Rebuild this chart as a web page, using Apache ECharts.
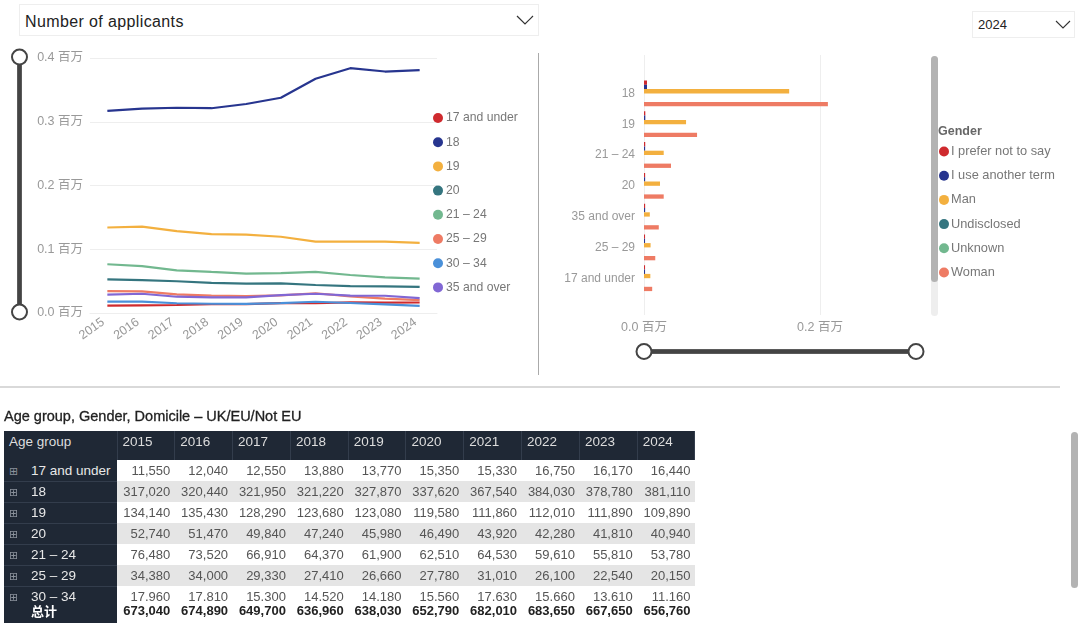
<!DOCTYPE html>
<html>
<head>
<meta charset="utf-8">
<script src="https://cdn.jsdelivr.net/npm/echarts@6/dist/echarts.min.js"></script>
<style>
  html, body { margin: 0; padding: 0; background: #fff; overflow: hidden; }
  body { width: 1080px; height: 625px; position: relative; font-family: "Liberation Sans", "Noto Sans CJK SC", sans-serif; }
  #main { position: absolute; left: 0; top: 0; width: 1080px; height: 625px; }
  .box { position: absolute; border: 1px solid #eee; box-sizing: border-box; color: #222; background: #fff; }
  .box svg { position: absolute; }
  .rule { position: absolute; }
  #title { position: absolute; left: 4px; top: 408px; font-size: 14.5px; color: #222; -webkit-text-stroke: 0.3px #222; }
  .wrap { position: absolute; left: 4px; overflow: hidden; }
  table { border-collapse: collapse; table-layout: fixed; width: 691px; font-size: 13px; }
  td, th { padding: 0; white-space: nowrap; overflow: hidden; font-weight: normal; }
  th { background: #1f2835; color: #ddd; text-align: left; height: 29px; vertical-align: top; padding: 3px 0 0 5px; box-sizing: border-box; font-size: 13.5px; border-right: 1px solid #333d4c; }
  td.lab { background: #1f2835; color: #e8e8e8; font-size: 13.5px; border-bottom: 1px solid #333d4c; }
  td.lab i { font-style: normal; color: #8b929c; font-family: "DejaVu Sans"; font-size: 11px; display: inline-block; width: 27px; padding-left: 5px; box-sizing: border-box; }
  td.val { text-align: right; color: #555; padding-right: 4.5px; }
  tr.alt td.val { background: #e5e5e5; }
  tr.body td { height: 21px; box-sizing: border-box; }
  #total td.val { color: #222; font-weight: bold; padding: 0 4.5px 3px 0; box-sizing: border-box; }
  #total td.lab { font-weight: bold; color: #fff; padding: 0 0 3px 27px; box-sizing: border-box; border: 0; font-size: 13px; }
  #total td { height: 22px; }
</style>
</head>
<body>
<div id="main"></div>

<div class="box" style="left:19px;top:4px;width:520px;height:32px;font-size:16px;line-height:33px;padding-left:5px;letter-spacing:.38px">Number of applicants
  <svg style="left:496px;top:9px" width="18" height="12"><path d="M1 2 L9 10 L17 2" fill="none" stroke="#333" stroke-width="1.2"/></svg>
</div>
<div class="box" style="left:972px;top:11px;width:103px;height:27px;font-size:13px;line-height:26px;padding-left:5px">2024
  <svg style="left:82px;top:7px" width="16" height="12"><path d="M1 2 L8 9 L15 2" fill="none" stroke="#333" stroke-width="1.1"/></svg>
</div>

<div class="rule" style="left:538px;top:53px;width:1px;height:322px;background:#aaa"></div>
<div class="rule" style="left:0;top:386px;width:1060px;height:2px;background:#d9d9d9"></div>
<div class="rule" style="left:931px;top:56px;width:7px;height:260px;background:#eee;border-radius:4px"></div>
<div class="rule" style="left:931px;top:56px;width:7px;height:226px;background:#b3b3b3;border-radius:4px"></div>
<div class="rule" style="left:1071px;top:432px;width:7px;height:156px;background:#b3b3b3;border-radius:4px"></div>

<div id="title">Age group, Gender, Domicile – UK/EU/Not EU</div>
<div class="wrap" id="tableTop" style="top:431px;width:691px;height:170px"></div>
<div class="wrap" id="total" style="top:601px;width:691px;height:22px"></div>

<script>
var years = ['2015', '2016', '2017', '2018', '2019', '2020', '2021', '2022', '2023', '2024'];
var ageGroups = ['17 and under', '18', '19', '20', '21 – 24', '25 – 29', '30 – 34', '35 and over'];

var age17 = [11550, 12040, 12550, 13880, 13770, 15350, 15330, 16750, 16170, 16440];
var age18 = [317020, 320440, 321950, 321220, 327870, 337620, 367540, 384030, 378780, 381110];
var age19 = [134140, 135430, 128290, 123680, 123080, 119580, 111860, 112010, 111890, 109890];
var age20 = [52740, 51470, 49840, 47240, 45980, 46490, 43920, 42280, 41810, 40940];
var age21 = [76480, 73520, 66910, 64370, 61900, 62510, 64530, 59610, 55810, 53780];
var age25 = [34380, 34000, 29330, 27410, 26660, 27780, 31010, 26100, 22540, 20150];
var age30 = [17960, 17810, 15300, 14520, 14180, 15560, 17630, 15660, 13610, 11160];
var age35 = [28770, 30180, 25530, 24640, 24590, 27900, 30190, 27210, 27040, 23290];
var totals = [673040, 674890, 649700, 636960, 638030, 652790, 682010, 683650, 667650, 656760];
var ageValues = [age17, age18, age19, age20, age21, age25, age30, age35];

// 2024 split by gender, sorted the way the bar chart shows it
var barAges = ['18', '19', '21 – 24', '20', '35 and over', '25 – 29', '17 and under'];
var genders = ['I prefer not to say', 'I use another term', 'Man', 'Undisclosed', 'Unknown', 'Woman'];
var notSay = [3400, 1500, 1400, 1300, 1300, 1200, 1200];
var another = [3400, 1500, 1300, 1300, 1300, 1200, 1200];
var man = [165000, 47800, 22400, 18200, 6600, 7500, 7200];
var undisclosed = [0, 0, 0, 0, 0, 0, 0];
var unknown = [0, 0, 0, 0, 0, 0, 0];
var woman = [209000, 60300, 30700, 22400, 16800, 12800, 9300];
var genderValues = [notSay, another, man, undisclosed, unknown, woman];

var colors = ['#cf2a2e', '#27358f', '#f3b03f', '#35757f', '#72b88f', '#ee7b64', '#4a90d9', '#8167d4'];

function millions(v) { return (v / 1000000).toFixed(1) + ' 百万'; }
var labelFont = { color: '#999', fontSize: 12.5, fontFamily: '"Liberation Sans", "Noto Sans CJK SC", sans-serif' };
var legendText = { color: '#777', fontSize: 12.5, fontFamily: '"Liberation Sans", sans-serif' };

var series = [];
ageGroups.forEach(function (name, i) {
  series.push({
    name: name, type: 'line', xAxisIndex: 0, yAxisIndex: 0,
    data: ageValues[i], showSymbol: false, lineStyle: { width: 2.2, color: colors[i] },
    itemStyle: { color: colors[i] }
  });
});
genders.forEach(function (name, i) {
  series.push({
    name: name, type: 'bar', xAxisIndex: 1, yAxisIndex: 1,
    data: genderValues[i], barWidth: 4.3, barGap: 0,
    itemStyle: { color: colors[i] }
  });
});

var sliderStyle = {
  type: 'slider', filterMode: 'none', start: 0, end: 100, showDetail: false, showDataShadow: false,
  brushSelect: false, moveHandleSize: 0, realtime: false,
  backgroundColor: '#444', fillerColor: '#444', borderColor: '#444', borderRadius: 0,
  handleIcon: 'circle', handleSize: 15,
  handleStyle: { color: '#fff', borderColor: '#444', borderWidth: 2 }
};

var chart = echarts.init(document.getElementById('main'));
chart.setOption({
  animation: false,
  grid: [
    { left: 90, top: 58, width: 347, height: 255 },
    { left: 644, top: 78, width: 271, height: 215.6 },
    { left: 644, top: 55, width: 271, height: 260 }
  ],
  xAxis: [
    {
      type: 'category', gridIndex: 0, data: years,
      axisLine: { lineStyle: { color: '#eee' } }, axisTick: { show: false },
      axisLabel: Object.assign({ rotate: 35, margin: 5, interval: 0, padding: [0, 5, 0, 0] }, labelFont)
    },
    { type: 'value', gridIndex: 1, min: 0, max: 308000, show: false, splitLine: { show: false } },
    {
      type: 'value', gridIndex: 2, min: 0, max: 308000, interval: 200000,
      axisLine: { show: false }, axisTick: { show: false },
      splitLine: { lineStyle: { color: '#eee' }, showMaxLine: false },
      axisLabel: Object.assign({ formatter: millions, showMaxLabel: false, margin: 6 }, labelFont)
    }
  ],
  yAxis: [
    {
      type: 'value', gridIndex: 0, min: 0, max: 400000, interval: 100000,
      axisLine: { show: false }, axisTick: { show: false },
      splitLine: { lineStyle: { color: '#eee' } },
      axisLabel: Object.assign({ formatter: millions, margin: 7 }, labelFont)
    },
    {
      type: 'category', gridIndex: 1, data: barAges, inverse: true,
      axisLine: { show: false }, axisTick: { show: false },
      axisLabel: Object.assign({ margin: 9, interval: 0 }, labelFont, { fontSize: 12 })
    },
    { type: 'value', gridIndex: 2, min: 0, max: 1, show: false, splitLine: { show: false } }
  ],
  legend: [
    {
      data: ageGroups, orient: 'vertical', left: 433, top: 112, padding: 0,
      icon: 'circle', itemWidth: 10, itemHeight: 10, itemGap: 12.2,
      textStyle: Object.assign({ padding: [0, 0, 0, -2] }, legendText, { fontSize: 12.2 }), selectedMode: false
    },
    {
      data: genders, orient: 'vertical', left: 939, top: 145, padding: 0,
      icon: 'circle', itemWidth: 10, itemHeight: 10, itemGap: 11.2,
      textStyle: Object.assign({ padding: [0, 0, 0, -3] }, legendText, { fontSize: 12.8 }), selectedMode: false
    }
  ],
  title: {
    text: 'Gender', left: 938, top: 125, padding: 0,
    textStyle: { color: '#666', fontSize: 12.5, fontWeight: 'bold', fontFamily: '"Liberation Sans", sans-serif' }
  },
  dataZoom: [
    Object.assign({ orient: 'vertical', yAxisIndex: 0, left: 16.5, width: 4, top: 56, height: 257 }, sliderStyle),
    Object.assign({ orient: 'horizontal', xAxisIndex: [1, 2], left: 641, width: 274, top: 349.5, height: 4 }, sliderStyle)
  ],
  series: series
});

// table under the charts
function fmt(v) { return v.toLocaleString('en-US'); }
var colgroup = '<colgroup><col style="width:113px">' + years.map(function () { return '<col style="width:57.8px">'; }).join('') + '</colgroup>';

var head = '<table>' + colgroup + '<tr><th>Age group</th>' + years.map(function (y) { return '<th>' + y + '</th>'; }).join('') + '</tr>';
ageGroups.forEach(function (name, i) {
  head += '<tr class="body ' + (i % 2 ? 'alt' : '') + '"><td class="lab"><i>⊞</i>' + name + '</td>' +
    ageValues[i].map(function (v) { return '<td class="val">' + fmt(v) + '</td>'; }).join('') + '</tr>';
});
document.getElementById('tableTop').innerHTML = head + '</table>';

document.getElementById('total').innerHTML = '<table>' + colgroup + '<tr><td class="lab">总计</td>' +
  totals.map(function (v) { return '<td class="val">' + fmt(v) + '</td>'; }).join('') + '</tr></table>';
</script>
</body>
</html>
